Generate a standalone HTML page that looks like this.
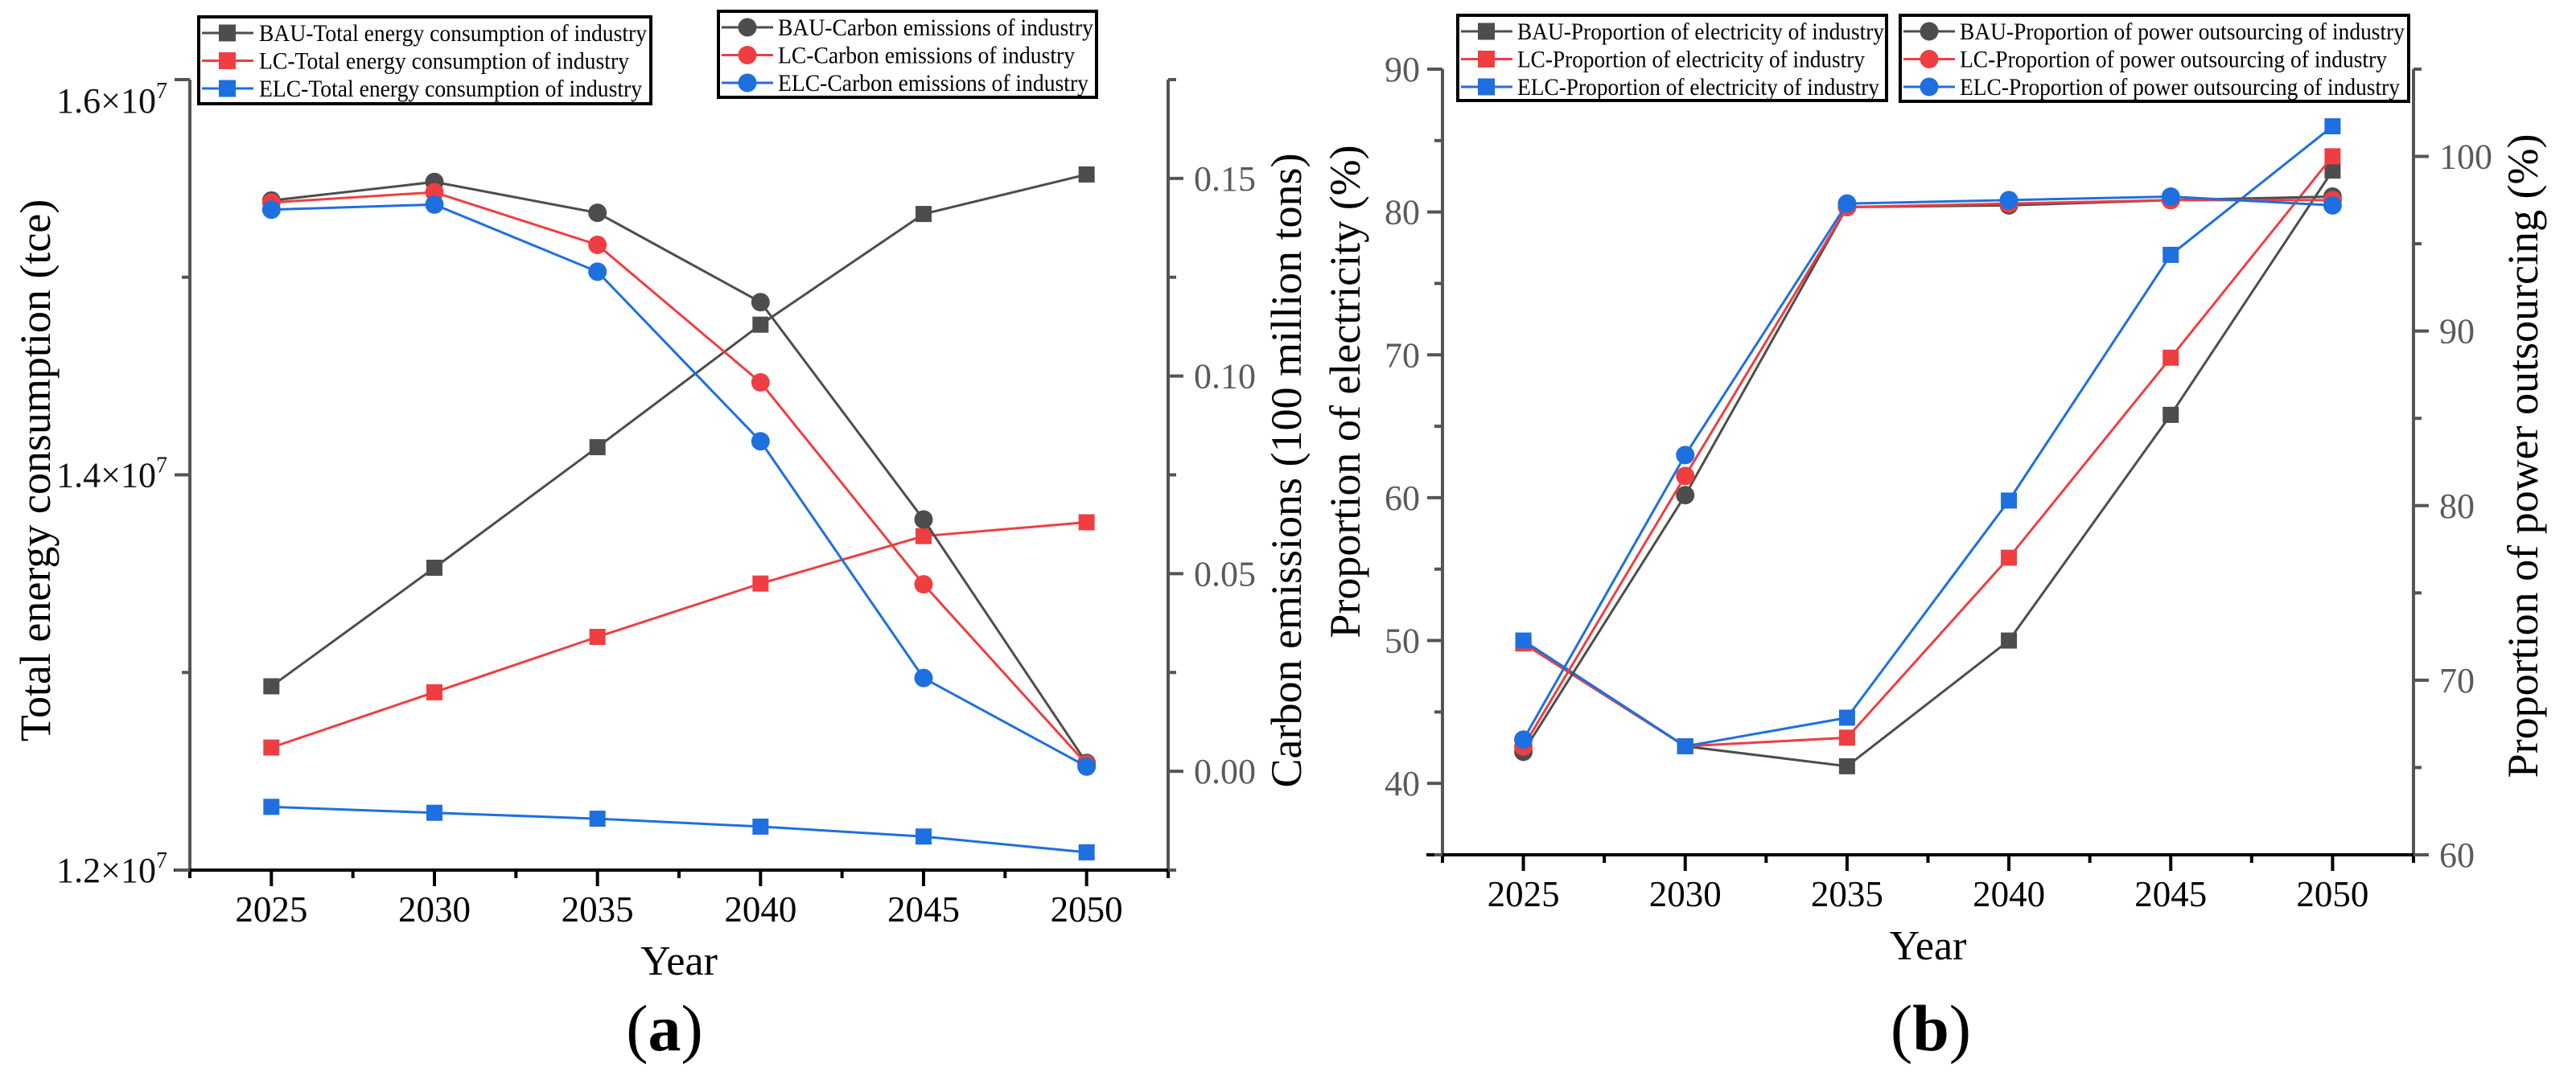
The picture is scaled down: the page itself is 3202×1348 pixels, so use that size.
<!DOCTYPE html>
<html><head><meta charset="utf-8">
<style>
html,body{margin:0;padding:0;background:#fff;}
svg{display:block;font-family:"Liberation Serif",serif;}
svg text{font-family:"Liberation Serif",serif;}
</style></head>
<body>
<svg id="chart" width="3202" height="1348" viewBox="0 0 3202 1348" xmlns="http://www.w3.org/2000/svg" font-family="Liberation Serif, serif"></svg>
<script>
// ---- data ----
const years = [2025, 2030, 2035, 2040, 2045, 2050];
// panel (a) energy (units of 1e7 tce)
const energyBAU = [1.293, 1.353, 1.414, 1.476, 1.532, 1.552];
const energyLC  = [1.262, 1.290, 1.318, 1.345, 1.369, 1.376];
const energyELC = [1.232, 1.229, 1.226, 1.222, 1.217, 1.209];
// panel (a) carbon (100 million tons)
const carbonBAU = [0.1444, 0.1491, 0.1413, 0.1187, 0.0637, 0.0021];
const carbonLC  = [0.1439, 0.1465, 0.1332, 0.0984, 0.0473, 0.0018];
const carbonELC = [0.1421, 0.1434, 0.1264, 0.0835, 0.0236, 0.0012];
// panel (b) electricity proportion (%)
const elecBAU = [49.8, 42.6, 41.2, 50.0, 65.8, 82.9];
const elecLC  = [49.8, 42.6, 43.2, 55.8, 69.8, 83.9];
const elecELC = [50.0, 42.6, 44.6, 59.8, 77.0, 86.0];
// panel (b) power outsourcing proportion (%)
const outBAU = [65.9, 80.6, 97.1, 97.2, 97.5, 97.7];
const outLC  = [66.2, 81.7, 97.1, 97.3, 97.5, 97.5];
const outELC = [66.6, 82.9, 97.3, 97.5, 97.7, 97.2];
// tick labels
const aLeftTicks = ["1.2", "1.4", "1.6"];
const aRightTicks = ["0.00", "0.05", "0.10", "0.15"];
const bLeftTicks = ["40", "50", "60", "70", "80", "90"];
const bRightTicks = ["60", "70", "80", "90", "100"];

const NS = "http://www.w3.org/2000/svg";
const FONT = "Liberation Serif, serif";
const svg = document.getElementById("chart");
const GRAY = "#4d4d4d", RED = "#ef3e42", BLUE = "#1e6fe0", AX = "#555";
function mk(tag, attrs, parent) {
  const e = document.createElementNS(NS, tag);
  for (const k in attrs) e.setAttribute(k, attrs[k]);
  (parent || svg).appendChild(e);
  return e;
}
function txt(s, attrs, parent) { attrs["font-family"] = FONT; const t = mk("text", attrs, parent); t.textContent = s; return t; }

function xScale(p, yr) { return p.x0 + (yr - p.xmin) / (p.xmax - p.xmin) * (p.x1 - p.x0); }
function yScale(p, lo, hi, v) { return p.yb - (v - lo) / (hi - lo) * (p.yb - p.yt); }

function axes(p, name) {
  const g = mk("g", {});
  
  
  mk("line", {x1:p.x0, y1:p.yt, x2:p.x0, y2:p.yb, stroke:AX, "stroke-width":4}, g);
  mk("line", {x1:p.x1, y1:p.yt, x2:p.x1, y2:p.yb, stroke:AX, "stroke-width":4}, g);
  mk("line", {x1:p.x0-20, y1:p.yb, x2:p.x1+2, y2:p.yb, stroke:"#000", "stroke-width":4}, g);
  for (let yr = p.xmin; yr <= p.xmax + 0.01; yr += 2.5) {
    const x = xScale(p, yr);
    const major = Math.abs(yr % 5) < 0.01;
    mk("line", {x1:x, y1:p.yb, x2:x, y2:p.yb + (major ? 20 : 10), stroke:"#000", "stroke-width":4}, g);
  }
  years.forEach(yr => {
    const t = txt(String(yr), {x:xScale(p, yr), y:p.yb + 64, "font-size":45, "text-anchor":"middle", fill:"#000"}, g);
    
    
  });
  const yt = txt("Year", {x:(p.x0+p.x1)/2, y:p.yb + 130, "font-size":52, "text-anchor":"middle", fill:"#000"}, g);
  
  
}

function yTicks(p, side, lo, hi, majors, step, labels, fmtSup) {
  const x = side === "L" ? p.x0 : p.x1;
  const dir = side === "L" ? -1 : 1;
  for (let v = lo; v <= hi + 1e-9; v += step / 2) {
    const y = yScale(p, lo, hi, v);
    const isMajor = majors.some(m => Math.abs(m - v) < 1e-6);
    mk("line", {x1:x, y1:y, x2:x + dir * (isMajor ? 19 : 10), y2:y, stroke:AX, "stroke-width":4});
  }
  majors.forEach((m, i) => {
    let y = yScale(p, lo, hi, m);
    if (y < p.yt + 20 && fmtSup) y = p.yt + 26;
    const attrs = {x: side === "L" ? x - 28 : x + 32, y: y + 15, "font-size":44,
      "text-anchor": side === "L" ? "end" : "start", fill: fmtSup ? "#111" : "#5a5a5a"};
    const t = txt("", attrs);
    
    
    if (fmtSup) {
      const a = mk("tspan", {}, t); a.textContent = labels[i] + "\u00d710";
      const b = mk("tspan", {dy:-18, "font-size":28}, t); b.textContent = "7";
    } else t.textContent = labels[i];
  });
}

function series(p, lo, hi, vals, color, marker, name) {
  const g = mk("g", {});
  
  
  const pts = vals.map((v, i) => [xScale(p, years[i]), yScale(p, lo, hi, v)]);
  mk("polyline", {points: pts.map(q => q.join(",")).join(" "), fill:"none", stroke:color, "stroke-width":3}, g);
  pts.forEach(q => {
    let m;
    if (marker === "s") m = mk("rect", {x:q[0]-10, y:q[1]-10, width:20, height:20, fill:color}, g);
    else m = mk("circle", {cx:q[0], cy:q[1], r:11.5, fill:color}, g);
    
    
  });
}

function legend(x, y, w, h, entries, textStart, marker, name) {
  const g = mk("g", {});
  
  
  mk("rect", {x:x, y:y, width:w, height:h, fill:"#fff", stroke:"#000", "stroke-width":4}, g);
  entries.forEach((e, i) => {
    const cy = y + 20 + i * 34.5;
    mk("line", {x1:x+4, y1:cy, x2:x+68, y2:cy, stroke:e.c, "stroke-width":3}, g);
    if (marker === "s") mk("rect", {x:x+25, y:cy-10.5, width:21, height:21, fill:e.c}, g);
    else mk("circle", {cx:x+36, cy:cy, r:11.5, fill:e.c}, g);
    const t = txt(e.t, {x:textStart, y:cy + 10, "font-size":30, fill:"#000", textLength:e.w, lengthAdjust:"spacingAndGlyphs"}, g);
    
    
  });
}

// ---- panel (a) ----
const pa = {x0:236, x1:1452, yt:99, yb:1082, xmin:2022.5, xmax:2052.5};
axes(pa, "panel-a");
yTicks(pa, "L", 1.2, 1.6, [1.2, 1.4, 1.6], 0.2, aLeftTicks, true);
yTicks(pa, "R", -0.025, 0.175, [0, 0.05, 0.10, 0.15], 0.05, aRightTicks, false);
series(pa, 1.2, 1.6, energyBAU, GRAY, "s", "bau-energy-line");
series(pa, 1.2, 1.6, energyLC, RED, "s", "lc-energy-line");
series(pa, 1.2, 1.6, energyELC, BLUE, "s", "elc-energy-line");
series(pa, -0.025, 0.175, carbonBAU, GRAY, "c", "bau-carbon-line");
series(pa, -0.025, 0.175, carbonLC, RED, "c", "lc-carbon-line");
series(pa, -0.025, 0.175, carbonELC, BLUE, "c", "elc-carbon-line");
legend(247, 21, 562, 108, [
  {t:"BAU-Total energy consumption of industry", c:GRAY, w:482},
  {t:"LC-Total energy consumption of industry", c:RED, w:460},
  {t:"ELC-Total energy consumption of industry", c:BLUE, w:476}], 322, "s", "legend-energy");
legend(893, 14, 470, 107, [
  {t:"BAU-Carbon emissions of industry", c:GRAY, w:392},
  {t:"LC-Carbon emissions of industry", c:RED, w:369},
  {t:"ELC-Carbon emissions of industry", c:BLUE, w:386}], 967, "c", "legend-carbon");
let t1 = txt("Total energy consumption (tce)", {x:0, y:0, "font-size":54, "text-anchor":"middle", transform:"translate(62,585) rotate(-90)"});


let t2 = txt("Carbon emissions (100 million tons)", {x:0, y:0, "font-size":54, "text-anchor":"middle", transform:"translate(1617,585) rotate(-90)"});


let la = txt("", {x:826, y:1306, "font-size":82, "text-anchor":"middle"});


la.innerHTML = '(<tspan font-weight="bold">a</tspan>)';

// ---- panel (b) ----
const pb = {x0:1793, x1:3000, yt:86, yb:1063, xmin:2022.5, xmax:2052.5};
axes(pb, "panel-b");
yTicks(pb, "L", 35, 90, [40, 50, 60, 70, 80, 90], 10, bLeftTicks, false);
yTicks(pb, "R", 60, 105, [60, 70, 80, 90, 100], 10, bRightTicks, false);
series(pb, 35, 90, elecBAU, GRAY, "s", "bau-electricity-line");
series(pb, 35, 90, elecLC, RED, "s", "lc-electricity-line");
series(pb, 35, 90, elecELC, BLUE, "s", "elc-electricity-line");
series(pb, 60, 105, outBAU, GRAY, "c", "bau-outsourcing-line");
series(pb, 60, 105, outLC, RED, "c", "lc-outsourcing-line");
series(pb, 60, 105, outELC, BLUE, "c", "elc-outsourcing-line");
legend(1812, 19, 533, 106, [
  {t:"BAU-Proportion of electricity of industry", c:GRAY, w:456},
  {t:"LC-Proportion of electricity of industry", c:RED, w:432},
  {t:"ELC-Proportion of electricity of industry", c:BLUE, w:450}], 1886, "s", "legend-electricity");
legend(2362, 19, 632, 107, [
  {t:"BAU-Proportion of power outsourcing of industry", c:GRAY, w:553},
  {t:"LC-Proportion of power outsourcing of industry", c:RED, w:531},
  {t:"ELC-Proportion of power outsourcing of industry", c:BLUE, w:547}], 2436, "c", "legend-outsourcing");
let t3 = txt("Proportion of electricity (%)", {x:0, y:0, "font-size":54, "text-anchor":"middle", transform:"translate(1690,487) rotate(-90)"});


let t4 = txt("Proportion of power outsourcing (%)", {x:0, y:0, "font-size":54, "text-anchor":"middle", transform:"translate(3154,567) rotate(-90)"});


let lb = txt("", {x:2400, y:1306, "font-size":82, "text-anchor":"middle"});


lb.innerHTML = '(<tspan font-weight="bold">b</tspan>)';
</script>
</body></html>
